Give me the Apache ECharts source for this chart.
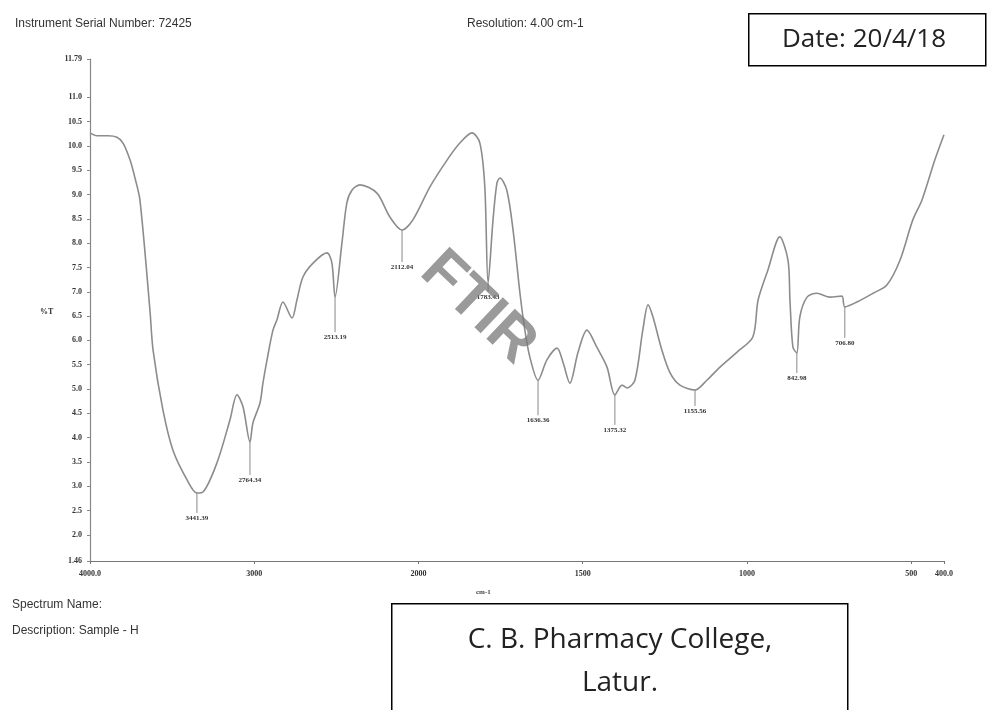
<!DOCTYPE html>
<html>
<head>
<meta charset="utf-8">
<title>FTIR spectrum</title>
<script src="https://cdn.jsdelivr.net/npm/echarts@6/dist/echarts.min.js"></script>
<style>
  html, body { margin: 0; padding: 0; background: #fff; }
  #chart { width: 993px; height: 710px; }
</style>
</head>
<body>
<div id="chart"></div>
<script>
// spectrum (cm-1 , %T)
var wavenumbers = [4000, 3957, 3890, 3836, 3799, 3756, 3726, 3696, 3635, 3616, 3556, 3495, 3409, 3349,
  3312, 3227, 3148, 3105, 3068, 3026, 3008, 2965, 2947, 2922, 2886, 2862, 2825, 2770, 2740, 2704,
  2642, 2557, 2527, 2508, 2466, 2436, 2405, 2356, 2253, 2174, 2100, 2034, 1965, 1913, 1874, 1837,
  1813, 1798, 1788, 1773, 1761, 1752, 1731, 1712, 1691, 1676, 1661, 1636, 1609, 1578, 1560, 1539,
  1514, 1487, 1457, 1426, 1402, 1380, 1365, 1341, 1317, 1301, 1286, 1259, 1234, 1204, 1158, 1122,
  1082, 1030, 982, 966, 936, 900, 875, 869, 860, 848, 839, 817, 787, 747, 711, 702, 665, 616, 574,
  534, 495, 467, 428, 400];
var transmittance = [10.27, 10.21, 10.21, 10.18, 10.06, 9.71, 9.34, 8.89, 6.62, 5.80, 4.57, 3.74, 3.13, 2.86,
  2.88, 3.48, 4.36, 4.88, 4.63, 3.91, 4.30, 4.71, 5.12, 5.60, 6.21, 6.42, 6.79, 6.46, 6.83, 7.30,
  7.59, 7.80, 7.59, 6.89, 8.00, 8.83, 9.09, 9.20, 9.03, 8.54, 8.27, 8.48, 9.16, 9.71, 10.06, 10.27,
  10.06, 9.16, 7.18, 8.48, 9.24, 9.34, 9.09, 8.27, 6.97, 6.21, 5.66, 5.18, 5.60, 5.84, 5.55, 5.12,
  5.76, 6.21, 5.86, 5.45, 4.88, 5.08, 5.02, 5.18, 6.21, 6.73, 6.48, 5.80, 5.33, 5.08, 4.98, 5.18,
  5.45, 5.76, 6.07, 6.83, 7.45, 8.13, 7.65, 6.83, 5.86, 5.74, 6.48, 6.89, 6.97, 6.89, 6.91, 6.69,
  6.79, 6.97, 7.14, 7.65, 8.48, 8.89, 9.71, 10.23];

// labelled minima
var peakWavenumbers = [3349, 3026, 2508, 2100, 1788, 1636, 1402, 1158, 848, 702];
var peakTransmittance = [2.86, 3.91, 6.89, 8.27, 7.18, 5.18, 4.88, 4.98, 5.74, 6.69];
var peakLabels = ['3441.39', '2764.34', '2513.19', '2112.04', '1783.43', '1636.36', '1375.32', '1155.56', '842.98', '706.80'];

// axis ticks
var xTickWavenumbers = [4000, 3000, 2000, 1500, 1000, 500, 400];
var xTickLabels = ['4000.0', '3000', '2000', '1500', '1000', '500', '400.0'];
var yTicks = [1.46, 2.0, 2.5, 3.0, 3.5, 4.0, 4.5, 5.0, 5.5, 6.0, 6.5, 7.0, 7.5, 8.0, 8.5, 9.0, 9.5, 10.0, 10.5, 11.0, 11.79];

// how far below its minimum each peak label hangs (px)
var peakDrop = [25, 38, 40, 37, 14, 40, 35, 21, 25, 36];

// the instrument doubles the x scale below 2000 cm-1
function toAxis(wn) {
  return wn >= 2000 ? (4000 - wn) / 2 : 1000 + (2000 - wn);
}

var line = wavenumbers.map(function (wn, i) { return [toAxis(wn), transmittance[i]]; });
var peaks = peakWavenumbers.map(function (wn, i) { return [toAxis(wn), peakTransmittance[i]]; });
var xTickPos = xTickWavenumbers.map(toAxis);

var chart = echarts.init(document.getElementById('chart'));
var serif = '"Liberation Serif", "DejaVu Serif", serif';
var sans = '"Liberation Sans", Arial, sans-serif';
var boxFont = '"Open Sans", Lato, sans-serif';

chart.setOption({
  backgroundColor: '#fff',
  animation: false,
  grid: { left: 90, right: 49, top: 59, bottom: 149 },
  xAxis: {
    type: 'value',
    min: 0,
    max: 2600,
    splitLine: { show: false },
    axisLine: { lineStyle: { color: '#777', width: 1.2 } },
    axisTick: { customValues: xTickPos, length: 3, lineStyle: { color: '#777' } },
    axisLabel: {
      customValues: xTickPos,
      margin: 9,
      color: '#333',
      fontFamily: serif,
      fontWeight: 'bold',
      fontSize: 8,
      formatter: function (v) {
        var i = xTickPos.indexOf(v);
        return i < 0 ? '' : xTickLabels[i];
      }
    }
  },
  yAxis: {
    type: 'value',
    min: 1.46,
    max: 11.79,
    splitLine: { show: false },
    axisLine: { lineStyle: { color: '#888', width: 1.2 } },
    axisTick: { customValues: yTicks, length: 3, lineStyle: { color: '#888' } },
    axisLabel: {
      customValues: yTicks,
      margin: 8,
      color: '#333',
      fontFamily: serif,
      fontWeight: 'bold',
      fontSize: 8,
      formatter: function (v) {
        if (v === 1.46 || v === 11.79) return String(v);
        return v.toFixed(1);
      }
    }
  },
  series: [
    {
      type: 'line',
      data: line,
      showSymbol: false,
      smooth: 0.3,
      lineStyle: { color: '#8c8c8c', width: 1.6 },
      z: 3
    },
    {
      type: 'custom',
      data: peaks,
      z: 4,
      renderItem: function (params, api) {
        var p = api.coord([api.value(0), api.value(1)]);
        var d = peakDrop[params.dataIndex];
        return {
          type: 'group',
          children: [
            { type: 'line', shape: { x1: p[0], y1: p[1], x2: p[0], y2: p[1] + d - 5 },
              style: { stroke: '#888', lineWidth: 1 } },
            { type: 'text', x: p[0], y: p[1] + d,
              style: { text: peakLabels[params.dataIndex], fill: '#333', align: 'center', verticalAlign: 'middle',
                       font: 'bold 7px ' + serif } }
          ]
        };
      }
    }
  ],
  graphic: [
    { type: 'text', left: 15, top: 18, style: { text: 'Instrument Serial Number: 72425', fill: '#333', font: '12px ' + sans } },
    { type: 'text', left: 467, top: 18, style: { text: 'Resolution: 4.00 cm-1', fill: '#333', font: '12px ' + sans } },
    { type: 'rect', left: 748, top: 13, shape: { width: 237, height: 52 }, style: { fill: '#fff', stroke: '#000', lineWidth: 1.5 } },
    { type: 'text', x: 864, y: 40, style: { text: 'Date: 20/4/18', fill: '#222', font: '26px ' + boxFont, align: 'center', verticalAlign: 'middle' } },
    { type: 'text', left: 40, top: 308, style: { text: '%T', fill: '#333', font: 'bold 8px ' + serif } },
    { type: 'text', left: 476, top: 589, style: { text: 'cm-1', fill: '#444', font: 'bold 7px ' + serif } },
    { type: 'text', left: 12, top: 599, style: { text: 'Spectrum Name:', fill: '#333', font: '12px ' + sans } },
    { type: 'text', left: 12, top: 625, style: { text: 'Description: Sample - H', fill: '#333', font: '12px ' + sans } },
    { type: 'rect', left: 391, top: 603, shape: { width: 456, height: 115 }, style: { fill: '#fff', stroke: '#000', lineWidth: 1.5 } },
    { type: 'text', x: 620, y: 640, style: { text: 'C. B. Pharmacy College,', fill: '#222', font: '28px ' + boxFont, align: 'center', verticalAlign: 'middle' } },
    { type: 'text', x: 620, y: 683, style: { text: 'Latur.', fill: '#222', font: '28px ' + boxFont, align: 'center', verticalAlign: 'middle' } },
    { type: 'text', x: 478, y: 308, rotation: -0.76, z: 10,
      style: { text: 'FTIR', fill: 'rgba(120,120,120,0.75)', font: 'bold 60px ' + sans, align: 'center', verticalAlign: 'middle' } }
  ]
});
</script>
</body>
</html>
